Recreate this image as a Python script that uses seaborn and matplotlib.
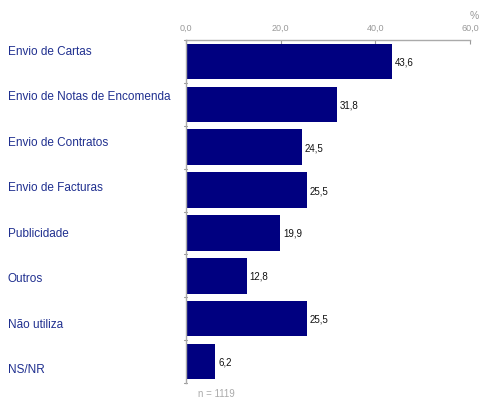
import matplotlib
matplotlib.use("Agg")
import matplotlib.pyplot as plt
import seaborn as sns
import pandas as pd

categories = [
    "Envio de Cartas",
    "Envio de Notas de Encomenda",
    "Envio de Contratos",
    "Envio de Facturas",
    "Publicidade",
    "Outros",
    "Não utiliza",
    "NS/NR",
]
values = [43.6, 31.8, 24.5, 25.5, 19.9, 12.8, 25.5, 6.2]
x_ticks = [0, 20, 40, 60]
sample_note = "n = 1119"

sns.set_theme(style="white")
plt.rcParams["font.family"] = ["Liberation Sans", "DejaVu Sans"]

df = pd.DataFrame({"categoria": categories, "valor": values})

fig = plt.figure(figsize=(4.82, 4.02), dpi=100)
ax = fig.add_axes([186 / 482, 1 - 384 / 402, (470 - 186) / 482, (384 - 41) / 402])

sns.barplot(data=df, x="valor", y="categoria", orient="h", color="#000080",
            saturation=1, width=0.83, linewidth=0, ax=ax)

ax.set_xlim(0, 60)
ax.set_ylim(len(categories) - 0.5, -0.5)
ax.set_xlabel("")
ax.set_ylabel("")

# value axis on top
ax.xaxis.tick_top()
ax.set_xticks(x_ticks)
ax.set_xticklabels([f"{t:.1f}".replace(".", ",") for t in x_ticks],
                   color="#999999", fontsize=6.5)
ax.tick_params(axis="x", direction="in", length=3, width=0.8, color="#999999",
               pad=6, top=True, bottom=False)

# category labels, left-aligned near the figure edge, evenly spread
ax.set_yticks(range(len(categories)))
ax.set_yticklabels([])
ax.tick_params(axis="y", length=0)
n = len(categories)
for i, c in enumerate(categories):
    y_px = 52 + i * (370 - 52) / (n - 1)
    fig.text(8 / 482, 1 - y_px / 402, c, ha="left", va="center",
             fontsize=8.5, color="#1F2F8F")

# small ticks at category boundaries on the left spine
for b in [i - 0.5 for i in range(n + 1)]:
    ax.plot([-0.4, 0.2], [b, b], color="#999999", lw=0.8, clip_on=False)

for s in ["right", "bottom"]:
    ax.spines[s].set_visible(False)
ax.spines["top"].set_color("#aaaaaa")
ax.spines["top"].set_linewidth(1)
ax.spines["left"].set_color("#aaaaaa")
ax.spines["left"].set_linewidth(1)

for i, v in enumerate(values):
    ax.text(v + 0.6, i, f"{v:.1f}".replace(".", ","), va="center", ha="left",
            fontsize=7, color="#111111")

fig.text(474 / 482, 1 - 16 / 402, "%", ha="center", va="center",
         fontsize=7.5, color="#999999")
fig.text(216 / 482, 1 - 394 / 402, sample_note, ha="center", va="center",
         fontsize=7, color="#aaaaaa")

fig.savefig("out.png", dpi=100)
